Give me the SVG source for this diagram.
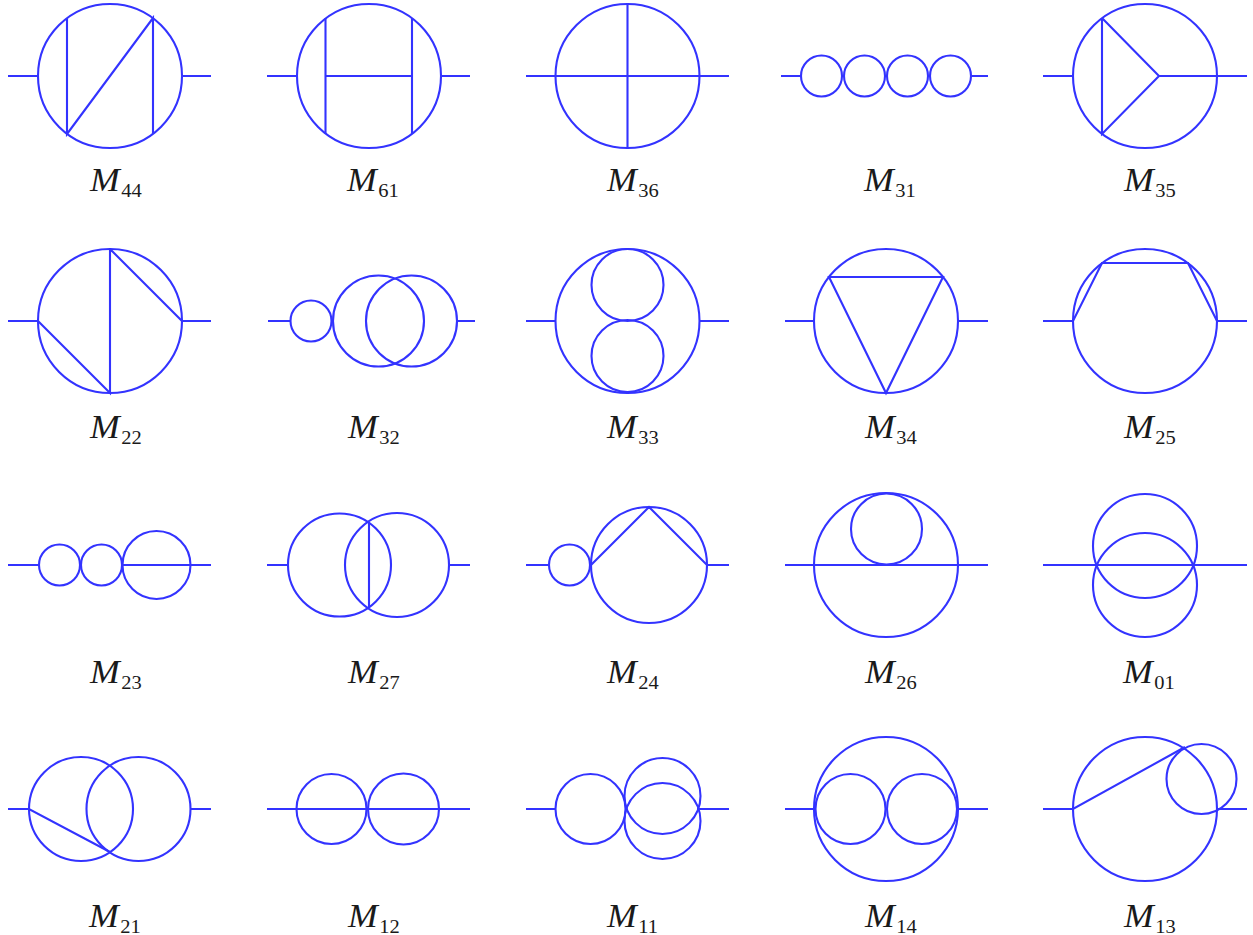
<svg xmlns="http://www.w3.org/2000/svg" width="1253" height="935" viewBox="0 0 1253 935">
<style>
rect.bg{fill:#fff}
circle,path{fill:none;stroke:#3333ff;stroke-width:2.1}
text{font-family:"Liberation Serif","Times New Roman",serif;fill:#1a1a1a}
.m{font-size:33px;font-style:italic}
.s{font-size:19px;font-style:normal}
</style>
<rect class="bg" width="1253" height="935"/>
<g id="M44"><circle cx="110" cy="76" r="72"/><path d="M8 76H38M182 76H211M67 18V134L153 18V134"/><text class="m" transform="translate(90 191) scale(1.08 1)">M<tspan class="s" x="29" dy="6">44</tspan></text></g>
<g id="M61"><circle cx="369" cy="76" r="72"/><path d="M267 76H297M441 76H470M325.500 18V134M412 18V134M325.500 76H412"/><text class="m" transform="translate(347 191) scale(1.08 1)">M<tspan class="s" x="29" dy="6">61</tspan></text></g>
<g id="M36"><circle cx="627.500" cy="76" r="72"/><path d="M526 76H729M627.500 4V148"/><text class="m" transform="translate(607 191) scale(1.08 1)">M<tspan class="s" x="29" dy="6">36</tspan></text></g>
<g id="M31"><circle cx="821.500" cy="76" r="20.500"/><circle cx="864.500" cy="76" r="20.500"/><circle cx="907.500" cy="76" r="20.500"/><circle cx="950.500" cy="76" r="20.500"/><path d="M781 76H801M971 76H988"/><text class="m" transform="translate(864 191) scale(1.08 1)">M<tspan class="s" x="29" dy="6">31</tspan></text></g>
<g id="M35"><circle cx="1145" cy="76" r="72"/><path d="M1043 76H1073M1159 76H1247M1102 18V134L1159 76L1102 18"/><text class="m" transform="translate(1124 191) scale(1.08 1)">M<tspan class="s" x="29" dy="6">35</tspan></text></g>
<g id="M22"><circle cx="110" cy="321" r="72"/><path d="M8 321H38M182 321H211M110 249V393L38 321M110 249L182 321"/><text class="m" transform="translate(90 438) scale(1.08 1)">M<tspan class="s" x="29" dy="6">22</tspan></text></g>
<g id="M32"><circle cx="311" cy="321" r="20.500"/><circle cx="378.500" cy="321" r="45.500"/><circle cx="411.500" cy="321" r="45.500"/><path d="M268 321H291M331 321H333M457 321H475"/><text class="m" transform="translate(348 438) scale(1.08 1)">M<tspan class="s" x="29" dy="6">32</tspan></text></g>
<g id="M33"><circle cx="627.500" cy="321" r="72"/><circle cx="627.500" cy="285" r="36"/><circle cx="627.500" cy="356" r="36"/><path d="M526 321H556M700 321H729"/><text class="m" transform="translate(607 438) scale(1.08 1)">M<tspan class="s" x="29" dy="6">33</tspan></text></g>
<g id="M34"><circle cx="886" cy="321" r="72"/><path d="M785 321H814M958 321H988M829 277H943L886 393Z"/><text class="m" transform="translate(865 438) scale(1.08 1)">M<tspan class="s" x="29" dy="6">34</tspan></text></g>
<g id="M25"><circle cx="1145" cy="321" r="72"/><path d="M1043 321H1073L1102 263H1188L1217 321H1247"/><text class="m" transform="translate(1124 438) scale(1.08 1)">M<tspan class="s" x="29" dy="6">25</tspan></text></g>
<g id="M23"><circle cx="59.500" cy="565" r="20.500"/><circle cx="101.500" cy="565" r="20.500"/><circle cx="156.500" cy="565" r="34"/><path d="M8 565H39M122 565H211"/><text class="m" transform="translate(90 683) scale(1.08 1)">M<tspan class="s" x="29" dy="6">23</tspan></text></g>
<g id="M27"><circle cx="339.500" cy="565" r="51.500"/><circle cx="397" cy="565" r="52"/><path d="M267 565H288M449 565H470M369 522V608"/><text class="m" transform="translate(348 683) scale(1.08 1)">M<tspan class="s" x="29" dy="6">27</tspan></text></g>
<g id="M24"><circle cx="569.500" cy="565" r="20.500"/><circle cx="649" cy="565" r="58"/><path d="M526 565H549M591 565L649 507L707 565H729"/><text class="m" transform="translate(607 683) scale(1.08 1)">M<tspan class="s" x="29" dy="6">24</tspan></text></g>
<g id="M26"><circle cx="886" cy="565" r="72"/><circle cx="886.500" cy="529" r="35.500"/><path d="M785 565H988"/><text class="m" transform="translate(865 683) scale(1.08 1)">M<tspan class="s" x="29" dy="6">26</tspan></text></g>
<g id="M01"><circle cx="1145" cy="546" r="52"/><circle cx="1145" cy="585" r="52"/><path d="M1043 565H1247"/><text class="m" transform="translate(1123 683) scale(1.08 1)">M<tspan class="s" x="29" dy="6">01</tspan></text></g>
<g id="M21"><circle cx="81" cy="809" r="52"/><circle cx="138.500" cy="809" r="52"/><path d="M8 809H29L110 852M190 809H211"/><text class="m" transform="translate(89 927) scale(1.08 1)">M<tspan class="s" x="29" dy="6">21</tspan></text></g>
<g id="M12"><circle cx="331.500" cy="809" r="35"/><circle cx="403.500" cy="809" r="35.500"/><path d="M267 809H470"/><text class="m" transform="translate(348 927) scale(1.08 1)">M<tspan class="s" x="29" dy="6">12</tspan></text></g>
<g id="M11"><circle cx="590.500" cy="809" r="35"/><circle cx="662.500" cy="796" r="38"/><circle cx="662.500" cy="821" r="38"/><path d="M526 809H555.500M697 809H729"/><text class="m" transform="translate(607 927) scale(1.08 1)">M<tspan class="s" x="29" dy="6">11</tspan></text></g>
<g id="M14"><circle cx="886" cy="809" r="72"/><circle cx="850.500" cy="809" r="35"/><circle cx="922" cy="809" r="35"/><path d="M785 809H814M958 809H988"/><text class="m" transform="translate(865 927) scale(1.08 1)">M<tspan class="s" x="29" dy="6">14</tspan></text></g>
<g id="M13"><circle cx="1145" cy="809" r="72"/><circle cx="1201.500" cy="779" r="35"/><path d="M1043 809H1073L1185 747M1217 809H1247"/><text class="m" transform="translate(1124 927) scale(1.08 1)">M<tspan class="s" x="29" dy="6">13</tspan></text></g>
</svg>
